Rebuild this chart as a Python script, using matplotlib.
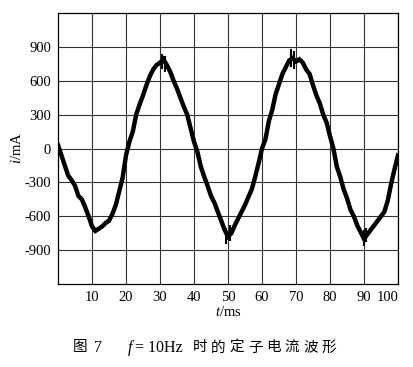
import numpy as np
import matplotlib
matplotlib.use('Agg')
import matplotlib.pyplot as plt
import matplotlib.transforms as mtransforms

plt.rcParams['font.family'] = ['Liberation Serif', 'Noto Sans CJK SC']
plt.rcParams['mathtext.fontset'] = 'custom'
plt.rcParams['mathtext.rm'] = 'Liberation Serif'
plt.rcParams['mathtext.it'] = 'Liberation Serif:italic'
plt.rcParams['axes.unicode_minus'] = False

# stator current trace, 1 ms steps
t = np.arange(0, 101)
i_ma = [30, -60, -150, -240, -280, -330, -420, -450, -520, -600,
        -690, -730, -710, -690, -660, -640, -580, -500, -380, -260,
        -60, 60, 150, 300, 390, 470, 560, 640, 700, 740,
        760, 790, 740, 680, 600, 530, 450, 370, 300, 180,
        60, -30, -160, -250, -330, -420, -480, -560, -640, -720,
        -780, -750, -680, -620, -560, -500, -430, -360, -250, -130,
        0, 80, 240, 340, 480, 570, 660, 720, 780, 800,
        770, 790, 760, 700, 660, 560, 470, 400, 300, 230,
        110, 0, -160, -250, -360, -440, -540, -600, -680, -740,
        -800, -760, -720, -680, -640, -600, -560, -460, -310, -180,
        -60]
# ripple spikes near the extremes (time, low, high)
spike_t = [30.5, 31.5, 49.5, 50.5, 68.5, 69.5, 90.0, 90.5]
spike_lo = [700, 680, -850, -820, 720, 700, -860, -830]
spike_hi = [840, 820, -700, -680, 880, 860, -720, -700]

xticks = [10, 20, 30, 40, 50, 60, 70, 80, 90, 100]
yticks = [-900, -600, -300, 0, 300, 600, 900]

fig = plt.figure(figsize=(4.13, 3.67), dpi=100)
ax = fig.add_axes([58/413, 1-284/367, 340/413, 271/367])
ax.set_xlim(0, 100)
ax.set_ylim(-1200, 1200)
ax.set_xticks(xticks)
ax.set_yticks(yticks)
ax.grid(True, color='#333333', lw=0.8)
ax.set_axisbelow(True)
ax.tick_params(length=0, labelsize=10.5, pad=5)
for s in ax.spines.values():
    s.set_linewidth(0.9)

ax.plot(t, i_ma, color='black', lw=3.2, solid_joinstyle='miter')
ax.vlines(spike_t, spike_lo, spike_hi, color='black', lw=1.5)

# last x label sits a bit left in the original
lab = ax.get_xticklabels()[-1]
lab.set_transform(lab.get_transform() + mtransforms.ScaledTranslation(-10/100, 0, fig.dpi_scale_trans))

ax.set_xlabel('$t$/ms', fontsize=10.5, labelpad=1)
ax.set_ylabel('$i$/mA', fontsize=10.5, labelpad=0)

# caption
fy = 1 - 348/367
fig.text(73/413, fy, '图', fontsize=10.5, va='center', ha='left')
fig.text(94/413, fy, '7', fontsize=11.5, va='center', ha='left')
fig.text(127/413, fy, '$f$', fontsize=11.5, va='center', ha='left')
fig.text(135/413, fy, '= 10Hz', fontsize=11.5, va='center', ha='left')
for k, ch in enumerate('时的定子电流波形'):
    fig.text((200 + 18.4*k)/413, fy, ch, fontsize=10.5, va='center', ha='center')

fig.savefig('out.png', dpi=100)
